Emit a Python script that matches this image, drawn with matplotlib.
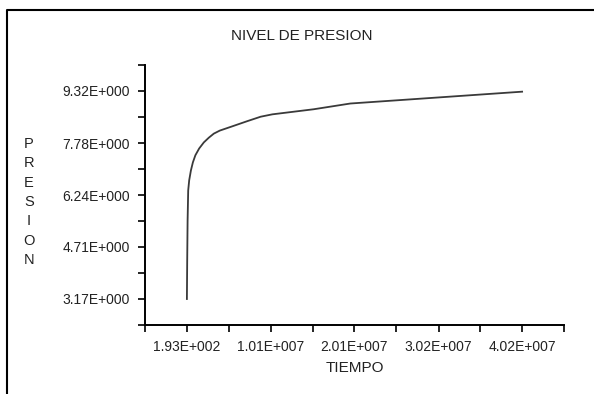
import matplotlib
matplotlib.use("Agg")
import matplotlib.pyplot as plt
from matplotlib.lines import Line2D
from matplotlib.ticker import FixedLocator
import numpy as np

plt.rcParams['font.family'] = ['Liberation Sans', 'DejaVu Sans']

# data
tiempo = [1.93e2, 3.6e4, 8.4e4, 1.56e5, 2.75e5, 4.8e5, 7.18e5, 1.017e6, 1.47e6,
          2.03e6, 2.63e6, 3.23e6, 3.95e6, 5.26e6, 7.26e6, 8.85e6, 1.025e7,
          1.52e7, 1.96e7, 3.02e7, 4.02e7]
presion = [3.17, 4.30, 5.49, 6.38, 6.68, 6.97, 7.21, 7.42, 7.62,
           7.80, 7.94, 8.06, 8.15, 8.26, 8.43, 8.56, 8.63,
           8.78, 8.95, 9.13, 9.30]

x_ticks = [1.93e2, 1.01e7, 2.01e7, 3.02e7, 4.02e7]
x_labels = ["1.93E+002", "1.01E+007", "2.01E+007", "3.02E+007", "4.02E+007"]
y_ticks = [3.17, 4.71, 6.24, 7.78, 9.32]
y_labels = ["3.17E+000", "4.71E+000", "6.24E+000", "7.78E+000", "9.32E+000"]

fig = plt.figure(figsize=(5.94, 3.94), dpi=100)
ax = fig.add_axes([145 / 594, 1 - 325 / 394, (564 - 145) / 594, (325 - 65) / 394])

ax.plot(tiempo, presion, color='#3a3a3a', linewidth=1.3)

xstep = (x_ticks[-1] - x_ticks[0]) / 4
ystep = (y_ticks[-1] - y_ticks[0]) / 4
ax.set_xlim(x_ticks[0] - xstep / 2, x_ticks[-1] + xstep / 2)
ax.set_ylim(y_ticks[0] - ystep / 2, y_ticks[-1] + ystep / 2)

ax.set_xticks(x_ticks)
ax.set_xticklabels(x_labels)
ax.set_yticks(y_ticks)
ax.set_yticklabels(y_labels)
ax.xaxis.set_minor_locator(FixedLocator([x_ticks[0] + xstep * (i + 0.5) for i in range(-1, 5)]))
ax.yaxis.set_minor_locator(FixedLocator([y_ticks[0] + ystep * (i + 0.5) for i in range(-1, 5)]))

ax.tick_params(which='both', direction='out', length=5, width=1.2, colors='black',
               labelsize=10, pad=6)
ax.tick_params(axis='both', labelcolor='#222222')

for s in ['top', 'right']:
    ax.spines[s].set_visible(False)
for s in ['left', 'bottom']:
    ax.spines[s].set_linewidth(1.4)

fig.text(302 / 594, 1 - 36 / 394, "NIVEL DE PRESION", ha='center', va='center',
         fontsize=11, color='#222222')
fig.text(355 / 594, 1 - 368 / 394, "TIEMPO", ha='center', va='center',
         fontsize=11, color='#222222')
fig.text(29 / 594, 1 - 202 / 394, "\n".join("PRESION"), ha='center', va='center',
         fontsize=10.5, color='#222222', linespacing=1.48)

# frame around the figure (left and top edges only visible)
fig.add_artist(Line2D([7 / 594, 7 / 594, 1.0], [0.0, 1 - 10 / 394, 1 - 10 / 394],
                      color='black', linewidth=1.5, transform=fig.transFigure))

fig.savefig("out.png", dpi=100, facecolor='white')
